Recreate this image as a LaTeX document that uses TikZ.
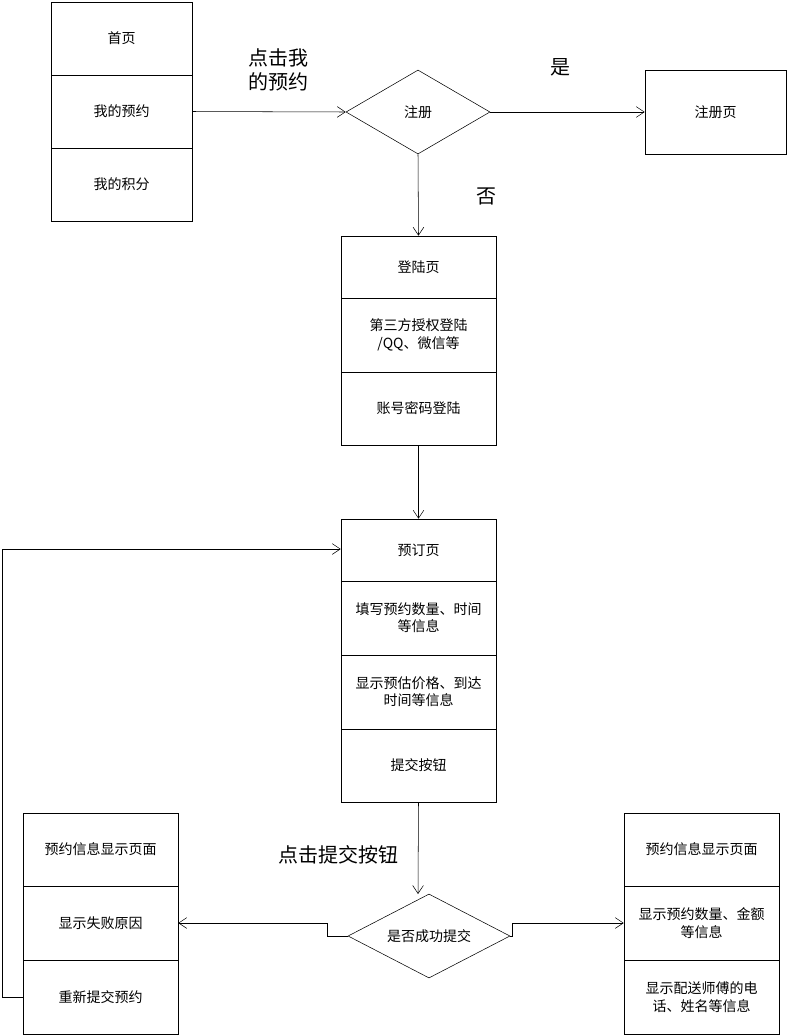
\documentclass[tikz,border=0pt]{standalone}
\usepackage{fontspec}
\setmainfont{Noto Sans CJK SC}
\usetikzlibrary{arrows.meta,shapes.geometric}
\begin{document}
\begin{tikzpicture}[x=0.75pt,y=-0.75pt]
\tikzstyle{cell}=[draw=black,rectangle,inner sep=2pt,align=center,font=\fontsize{10.5}{13}\selectfont]
\tikzstyle{choice}=[draw=black,diamond,aspect=1.75,inner sep=0pt,font=\fontsize{10.5}{13}\selectfont]
\tikzstyle{arrow}=[-{Straight Barb[length=6pt,width=8pt]},thin]
\tikzstyle{tag}=[font=\fontsize{15}{18}\selectfont,align=left]

\useasboundingbox (0,0) rectangle (788,1036);

% top menu
\node [cell,minimum width=105.75pt,minimum height=54.75pt] at (121.5,38.5) (home) {首页};
\node [cell,minimum width=105.75pt,minimum height=54.75pt] at (121.5,111.5) (mine) {我的预约};
\node [cell,minimum width=105.75pt,minimum height=54.75pt] at (121.5,184.5) (points) {我的积分};

\node [choice,minimum width=108pt,minimum height=63pt] at (418,112) (reg) {注册};
\node [cell,minimum width=105.75pt,minimum height=63pt] at (715.5,112) (regpage) {注册页};

\draw [arrow] (mine.east) -- (reg.west);
\draw [arrow] (reg.east) -- (regpage.west);
\node [tag] at (278,70) (clickmine) {点击我\\的预约};
\node [tag] at (560,67) (yes) {是};
\node [tag] at (486,196) (no) {否};

% login
\node [cell,minimum width=116.25pt,minimum height=46.5pt] at (418.5,267) (login) {登陆页};
\node [cell,minimum width=116.25pt,minimum height=55.5pt] at (418.5,335) (oauth) {第三方授权登陆\\/QQ、微信等};
\node [cell,minimum width=116.25pt,minimum height=54.75pt] at (418.5,408.5) (account) {账号密码登陆};
\draw [arrow] (reg.south) -- (login.north);

% booking
\node [cell,minimum width=116.25pt,minimum height=46.5pt] at (418.5,550) (book) {预订页};
\node [cell,minimum width=116.25pt,minimum height=55.5pt] at (418.5,618) (fill) {填写预约数量、时间\\等信息};
\node [cell,minimum width=116.25pt,minimum height=55.5pt] at (418.5,692) (price) {显示预估价格、到达\\时间等信息};
\node [cell,minimum width=116.25pt,minimum height=54.75pt] at (418.5,765.5) (submit) {提交按钮};
\draw [arrow] (account.south) -- (book.north);

\node [choice,minimum width=121.5pt,minimum height=63pt] at (429,936) (ok) {是否成功提交};
\draw [arrow] (submit.south) -- (418,894);
\node [tag] at (338,855) (clicksubmit) {点击提交按钮};

% failure
\node [cell,minimum width=116.25pt,minimum height=54.75pt] at (100.5,849.5) (failinfo) {预约信息显示页面};
\node [cell,minimum width=116.25pt,minimum height=55.5pt] at (100.5,923) (reason) {显示失败原因};
\node [cell,minimum width=116.25pt,minimum height=55.5pt] at (100.5,997) (retry) {重新提交预约};

% success
\node [cell,minimum width=116.25pt,minimum height=54.75pt] at (701.5,849.5) (succinfo) {预约信息显示页面};
\node [cell,minimum width=116.25pt,minimum height=55.5pt] at (701.5,923) (amount) {显示预约数量、金额\\等信息};
\node [cell,minimum width=116.25pt,minimum height=55.5pt] at (701.5,997) (driver) {显示配送师傅的电\\话、姓名等信息};

\draw [arrow] (ok.west) -- (327,936) -- (327,923) -- (reason.east);
\draw [arrow] (ok.east) -- (512,936) -- (512,923) -- (amount.west);
\draw [arrow] (retry.west) -- (2,997) -- (2,549) -- (book.west |- 0,549);
\end{tikzpicture}
\end{document}
